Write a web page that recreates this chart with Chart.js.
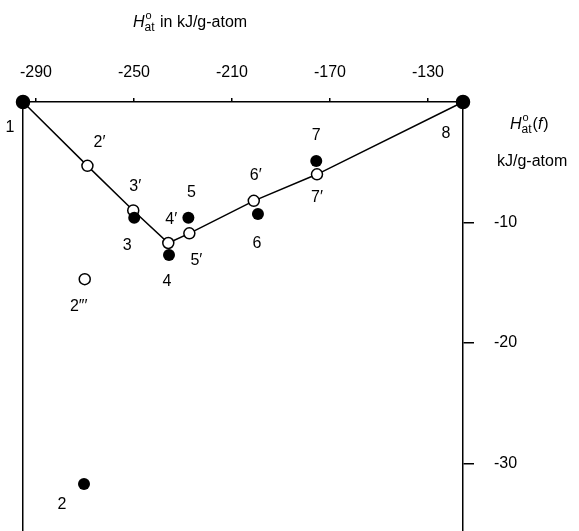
<!DOCTYPE html>
<html>
<head>
<meta charset="utf-8">
<script src="https://cdn.jsdelivr.net/npm/chart.js@4"></script>
<style>
html,body{margin:0;padding:0;background:#fff;}
#wrap{width:579px;height:531px;}
</style>
</head>
<body>
<div id="wrap"><canvas id="c" width="579" height="531"></canvas></div>
<script>
// ---- data ----
const xTicks = [-290, -250, -210, -170, -130];
const yTicks = [-10, -20, -30];
const xRange = [-295.3, -115.7];
const yRange = [-35.6, 0];

// connected series (1, 2'..7', 8)
const lineNames = ["1", "2′", "3′", "4′", "5′", "6′", "7′", "8"];
const lineX = [-295.3, -269.0, -250.3, -236.0, -227.4, -201.1, -175.3, -115.7];
const lineY = [0, -5.3, -9.0, -11.7, -10.9, -8.2, -6.0, 0];

// filled, unconnected
const filledNames = ["2", "3", "4", "5", "6", "7"];
const filledX = [-270.4, -249.9, -235.7, -227.8, -199.4, -175.6];
const filledY = [-31.7, -9.6, -12.7, -9.6, -9.3, -4.9];

// open, unconnected
const openNames = ["2″′"];
const openX = [-270.1];
const openY = [-14.7];

// ---- label placement (pixel offsets from the marker) ----
const labelOffsets = {
  "1": [-13, 26], "2′": [12, -23], "3′": [2, -24], "4′": [3, -23], "5′": [7, 27],
  "6′": [2, -25], "7′": [0, 23], "8": [-17, 32],
  "2": [-22, 21], "3": [-7, 28], "4": [-2, 27], "5": [3, -25], "6": [-1, 30], "7": [0, -25],
  "2″′": [-6, 27]
};

const toPts = (xs, ys) => xs.map((x, i) => ({x: x, y: ys[i]}));

const FONT = "'Liberation Sans', Arial, sans-serif";

const labelPlugin = {
  id: 'pointLabels',
  afterDatasetsDraw(chart) {
    const ctx = chart.ctx;
    ctx.save();
    ctx.font = "16px " + FONT;
    ctx.fillStyle = "#000";
    ctx.textAlign = "center";
    ctx.textBaseline = "middle";
    chart.data.datasets.forEach((ds, di) => {
      const meta = chart.getDatasetMeta(di);
      meta.data.forEach((el, i) => {
        const name = ds.names[i];
        const off = labelOffsets[name] || [0, 0];
        ctx.fillText(name, el.x + off[0], el.y + off[1]);
      });
    });
    ctx.restore();
  }
};

function drawH(ctx, x, y) {
  // italic H with superscript o and subscript at; returns end x
  ctx.font = "italic 16px " + FONT;
  ctx.fillText("H", x, y);
  let w = ctx.measureText("H").width;
  ctx.font = "11px " + FONT;
  ctx.fillText("o", x + w + 1, y - 8);
  ctx.font = "12px " + FONT;
  ctx.fillText("at", x + w, y + 4);
  const w2 = ctx.measureText("at").width;
  return x + w + w2 + 1;
}

const textPlugin = {
  id: 'axisTexts',
  afterDraw(chart) {
    const ctx = chart.ctx;
    ctx.save();
    ctx.fillStyle = "#000";
    ctx.textAlign = "left";
    ctx.textBaseline = "alphabetic";
    // top title
    let x = drawH(ctx, 133, 27);
    ctx.font = "16px " + FONT;
    ctx.fillText(" in kJ/g-atom", x, 27);
    // right axis title
    x = drawH(ctx, 510, 129);
    ctx.font = "16px " + FONT;
    ctx.fillText("(", x, 129);
    x += ctx.measureText("(").width;
    ctx.font = "italic 16px " + FONT;
    ctx.fillText("f", x, 129);
    x += ctx.measureText("f").width + 1;
    ctx.font = "16px " + FONT;
    ctx.fillText(")", x, 129);
    ctx.fillText("kJ/g-atom", 497, 166);
    ctx.restore();
  }
};

new Chart(document.getElementById('c'), {
  type: 'scatter',
  data: {
    datasets: [
      {
        names: lineNames,
        data: toPts(lineX, lineY),
        showLine: true,
        borderColor: '#000',
        borderWidth: 1.5,
        pointRadius: ctx => (ctx.dataIndex === 0 || ctx.dataIndex === lineNames.length - 1) ? 6.5 : 5.5,
        pointBackgroundColor: ctx => (ctx.dataIndex === 0 || ctx.dataIndex === lineNames.length - 1) ? '#000' : '#fff',
        pointBorderColor: '#000',
        pointBorderWidth: 1.5,
        clip: false,
        order: 2
      },
      {
        names: openNames,
        data: toPts(openX, openY),
        showLine: false,
        pointRadius: 5.5,
        pointBackgroundColor: '#fff',
        pointBorderColor: '#000',
        pointBorderWidth: 1.5,
        clip: false,
        order: 1
      },
      {
        names: filledNames,
        data: toPts(filledX, filledY),
        showLine: false,
        pointRadius: 6,
        pointBackgroundColor: '#000',
        pointBorderColor: '#000',
        pointBorderWidth: 0,
        clip: false,
        order: 0
      }
    ]
  },
  options: {
    responsive: false,
    animation: false,
    events: [],
    layout: {padding: 0, autoPadding: false},
    plugins: {legend: {display: false}, tooltip: {enabled: false}, title: {display: false}},
    scales: {
      x: {
        type: 'linear',
        position: 'top',
        min: xRange[0],
        max: xRange[1],
        afterBuildTicks: s => { s.ticks = xTicks.map(v => ({value: v})); },
        afterFit: s => { s.height = 102; s.paddingLeft = 0; s.paddingRight = 0; },
        grid: {drawOnChartArea: false, drawTicks: true, tickLength: 4, color: '#000', lineWidth: 1.5},
        border: {display: true, color: '#000', width: 1.5},
        ticks: {color: '#000', font: {size: 16, family: FONT}, padding: 16, maxRotation: 0, autoSkip: false,
                callback: v => String(v)}
      },
      y: {
        type: 'linear',
        position: 'right',
        min: yRange[0],
        max: yRange[1],
        afterBuildTicks: s => { s.ticks = yTicks.map(v => ({value: v})); },
        afterFit: s => { s.width = 116; s.paddingTop = 0; s.paddingBottom = 0; },
        grid: {drawOnChartArea: false, drawTicks: true, tickLength: 11, color: '#000', lineWidth: 1.5},
        border: {display: true, color: '#000', width: 1.5},
        ticks: {color: '#000', font: {size: 16, family: FONT}, padding: 20, autoSkip: false,
                callback: v => String(v)}
      },
      yl: {
        type: 'linear',
        position: 'left',
        min: yRange[0],
        max: yRange[1],
        afterFit: s => { s.width = 23; s.paddingTop = 0; s.paddingBottom = 0; },
        grid: {display: false},
        border: {display: true, color: '#000', width: 1.5},
        ticks: {display: false}
      }
    }
  },
  plugins: [labelPlugin, textPlugin]
});
</script>
</body>
</html>
